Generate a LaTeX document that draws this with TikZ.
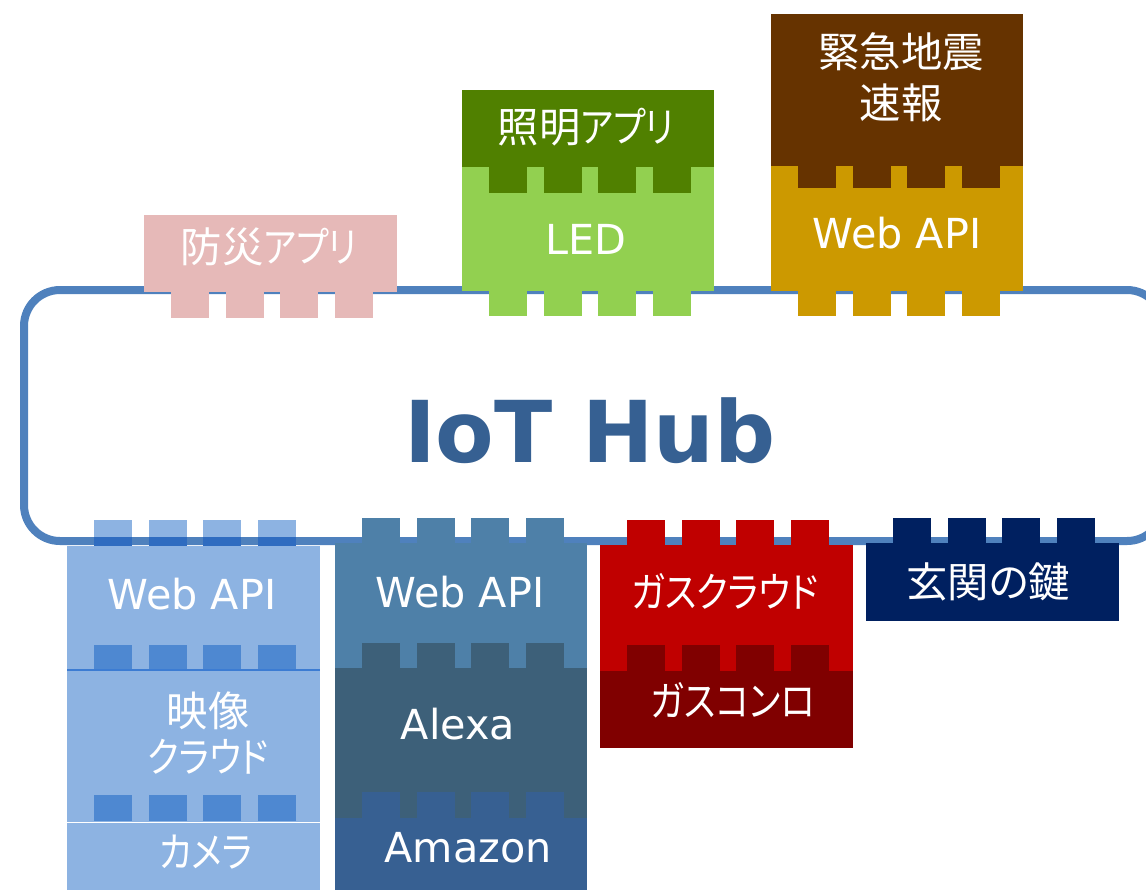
\documentclass[tikz,border=0pt]{standalone}
\usepackage{fontspec}
\setmainfont{DejaVu Sans}
\newfontfamily\jpfont{Noto Sans CJK JP}[RawFeature=+palt]
\newfontfamily\kanafont{Noto Sans CJK JP}[RawFeature=+palt, FakeStretch=0.85]
\usetikzlibrary{positioning}

\definecolor{hubline}{HTML}{4F81BD}
\definecolor{hubdark}{HTML}{2F6CC0}
\definecolor{hubtext}{HTML}{366092}
\definecolor{pinkapp}{HTML}{E6B9B8}
\definecolor{greenapp}{HTML}{508000}
\definecolor{greenled}{HTML}{92D050}
\definecolor{brownapp}{HTML}{663300}
\definecolor{goldapi}{HTML}{CC9900}
\definecolor{lightcol}{HTML}{8DB3E2}
\definecolor{lightstud}{HTML}{4E88D1}
\definecolor{lightsep}{HTML}{3C7CD3}
\definecolor{steelapi}{HTML}{4E80A8}
\definecolor{steelalexa}{HTML}{3D6079}
\definecolor{steelamazon}{HTML}{376092}
\definecolor{redcloud}{HTML}{C00000}
\definecolor{redstove}{HTML}{800000}
\definecolor{navykey}{HTML}{002060}

% four studs under/over a brick whose left edge is #1
\newcommand{\studrow}[4]{%
  \foreach \k in {0,1,2,3}
    \fill[#4] ({#1+27+54.5*\k},#2) rectangle ({#1+65+54.5*\k},#3);}
\newcommand{\kana}[1]{{\kanafont #1}}

\tikzset{
  brick text/.style={text=white, inner sep=0pt, align=center, font=\fontsize{31}{38}\selectfont},
  jp text/.style={brick text, font=\jpfont\fontsize{31}{38}\selectfont},
  hub title/.style={text=hubtext, inner sep=0pt, font=\bfseries\fontsize{64}{70}\selectfont},
}

\begin{document}
\begin{tikzpicture}[x=0.75pt,y=-0.75pt]
  \useasboundingbox (0,0) rectangle (1146,890);

  % hub
  \draw[hubline, line width=6pt, rounded corners=27pt] (24,290) rectangle (1163,541);
  \node[hub title] (hub) at (590,431) {IoT Hub};

  % top bricks
  \fill[pinkapp] (144,215) rectangle (397,292);
  \studrow{144}{292}{318}{pinkapp}
  \node[jp text] (bousai) at (269,247) {防災\kana{アプリ}};

  \fill[greenled] (462,167) rectangle (714,291);
  \studrow{462}{291}{316}{greenled}
  \fill[greenapp] (462,90) rectangle (714,167);
  \studrow{462}{167}{193}{greenapp}
  \node[jp text] (shomei) at (586,127) {照明\kana{アプリ}};
  \node[brick text] (led) at (586,239) {LED};

  \fill[goldapi] (771,166) rectangle (1023,291);
  \studrow{771}{291}{316}{goldapi}
  \fill[brownapp] (771,14) rectangle (1023,166);
  \studrow{771}{166}{188}{brownapp}
  \node[jp text] (jishin) at (901,77) {緊急地震\\速報};
  \node[brick text] (webapi3) at (897,233) {Web API};

  % bottom left column
  \fill[lightcol] (67,546) rectangle (320,670);
  \studrow{67}{520}{546}{lightcol}
  \foreach \k in {0,1,2,3}
    \fill[hubdark] ({94+54.5*\k},537) rectangle ({132+54.5*\k},546);
  \fill[lightcol] (67,670) rectangle (320,822);
  \studrow{67}{645}{670}{lightstud}
  \draw[lightsep, line width=1.2pt] (67,670) -- (320,670);
  \fill[lightcol] (67,823) rectangle (320,890);
  \studrow{67}{795}{821}{lightstud}
  \node[brick text] (webapi1) at (192,594) {Web API};
  \node[jp text, font=\jpfont\fontsize{31}{35}\selectfont] (eizo) at (208,733) {映像\\\kana{クラウド}};
  \node[jp text] (camera) at (206,852) {\kana{カメラ}};

  % bottom second column
  \fill[steelapi] (335,543) rectangle (587,668);
  \studrow{335}{518}{543}{steelapi}
  \fill[steelalexa] (335,668) rectangle (587,818);
  \studrow{335}{643}{668}{steelalexa}
  \fill[steelamazon] (335,818) rectangle (587,890);
  \studrow{335}{792}{818}{steelamazon}
  \node[brick text] (webapi2) at (460,592) {Web API};
  \node[brick text] (alexa) at (458,724) {Alexa};
  \node[brick text] (amazon) at (468,848) {Amazon};

  % bottom third column
  \fill[redcloud] (600,545) rectangle (853,671);
  \studrow{600}{520}{545}{redcloud}
  \fill[redstove] (600,671) rectangle (853,748);
  \studrow{600}{645}{671}{redstove}
  \node[jp text] (gascloud) at (725,591) {\kana{ガスクラウド}};
  \node[jp text] (gasstove) at (733,700) {\kana{ガスコンロ}};

  % bottom fourth brick
  \fill[navykey] (866,543) rectangle (1119,621);
  \studrow{866}{518}{543}{navykey}
  \node[jp text] (genkan) at (988,582) {玄関の鍵};
\end{tikzpicture}
\end{document}
